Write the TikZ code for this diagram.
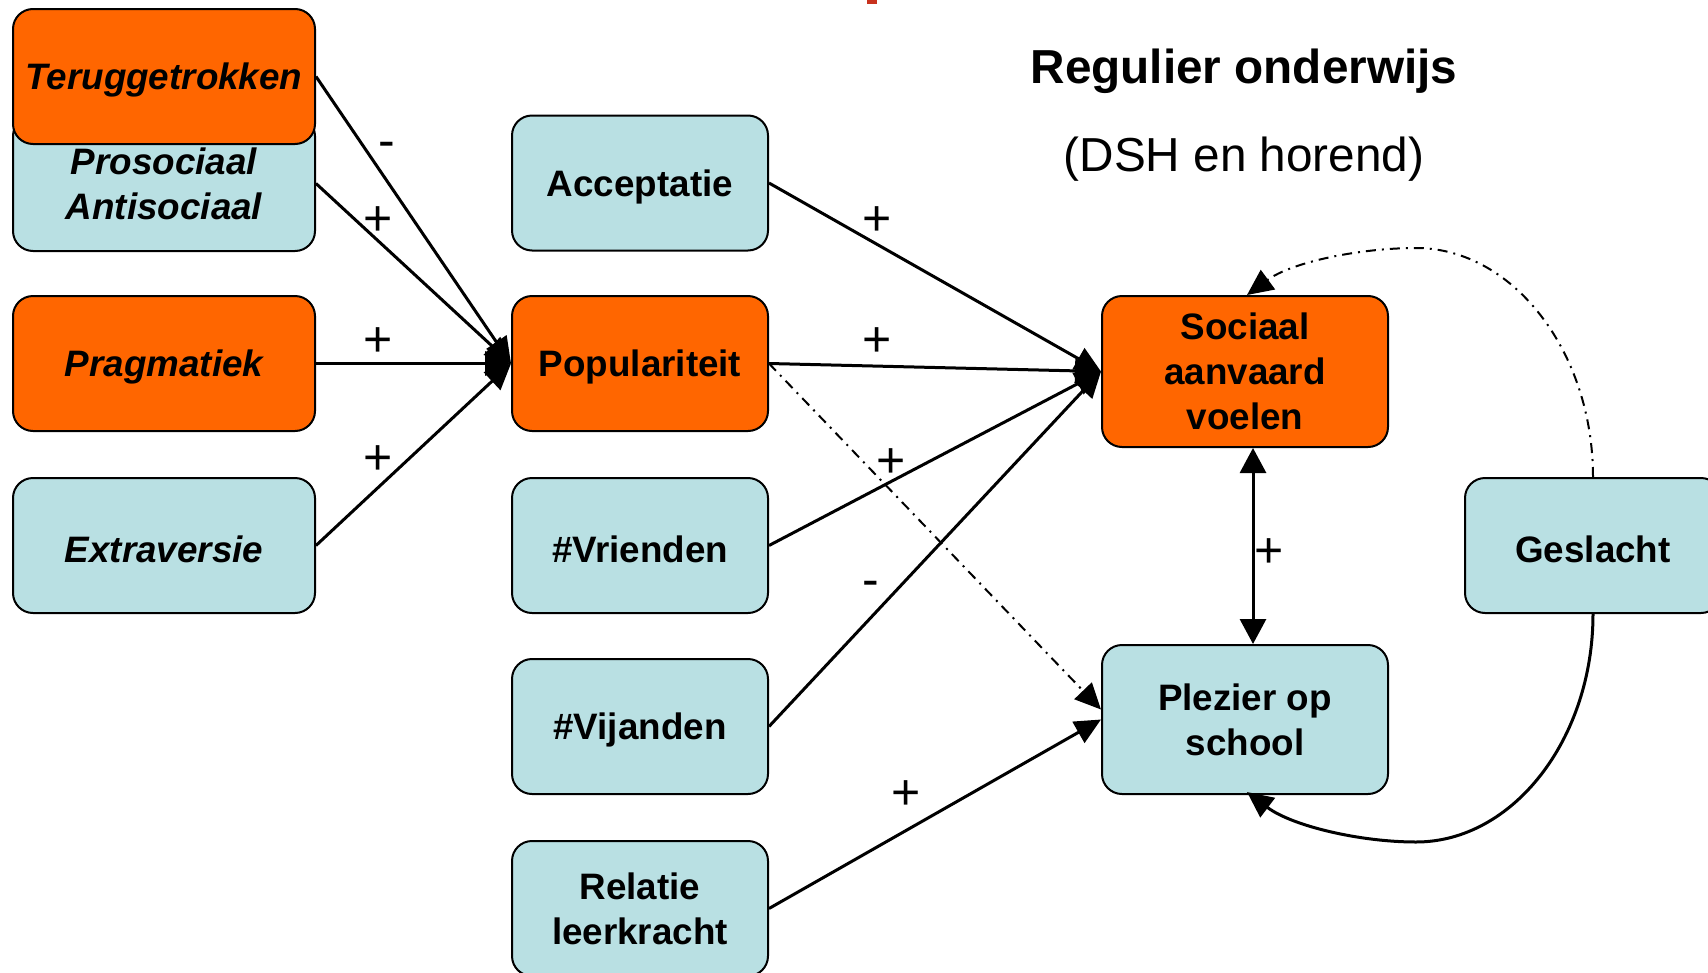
\documentclass[tikz,border=0pt]{standalone}
\usepackage{fontspec}
\setmainfont{Liberation Sans}
\usetikzlibrary{arrows.meta}
\definecolor{orng}{RGB}{255,102,0}
\definecolor{lblue}{RGB}{185,224,227}
\definecolor{redmark}{RGB}{200,50,30}
\begin{document}
\begin{tikzpicture}[x=1pt,y=-1pt,
  box/.style={draw=black, line width=2pt, rounded corners=20pt, minimum width=256pt,
    minimum height=135pt, align=center, inner sep=0pt,
    font=\fontsize{36.8}{44.7}\selectfont\bfseries},
  wbox/.style={box, minimum width=302pt},
  one/.style={execute at begin node={\rule{0pt}{34pt}}},
  ital/.style={font=\fontsize{36.8}{44.7}\selectfont\bfseries\itshape},
  ob/.style={fill=orng},
  bb/.style={fill=lblue},
  conn/.style={line width=3pt, -{Triangle[length=26pt,width=24pt]}},
  dd/.style={line width=2pt, dash pattern=on 10pt off 6pt on 2pt off 6pt, -{Triangle[length=26pt,width=24pt]}},
  sgn/.style={font=\fontsize{50}{60}\selectfont, inner sep=0pt},
  ttl/.style={font=\fontsize{47.7}{56}\selectfont, inner sep=0pt}]
\useasboundingbox (0,0) rectangle (1708,972);
\clip (0,0) rectangle (1708,972);
\fill[redmark] (867,0) rectangle (877,4);
\node[ttl, font=\fontsize{47.7}{56}\selectfont\bfseries] (title) at (1244,71.5) {Regulier onderwijs};
\node[ttl] (sub) at (1244,159.5) {(DSH en horend)};
% left column
\node[wbox, bb, ital, minimum height=135pt] (prosoc) at (164,183.5) {Prosociaal\\Antisociaal};
\node[wbox, ob, ital, one] (terug) at (164,76.5) {Teruggetrokken};
\node[wbox, ob, ital, one] (prag) at (164,363.5) {Pragmatiek};
\node[wbox, bb, ital, one] (extra) at (164,545.5) {Extraversie};
% middle column
\node[box, bb, one] (accept) at (640,183) {Acceptatie};
\node[box, ob, one] (popul) at (640,363.5) {Populariteit};
\node[box, bb, one] (vrienden) at (640,545.5) {\#Vrienden};
\node[box, bb, one] (vijanden) at (640,726.5) {\#Vijanden};
\node[box, bb] (relatie) at (640,908.5) {Relatie\\leerkracht};
% right column
\node[box, ob, minimum width=286pt, minimum height=151pt] (sociaal) at (1245,371.5) {Sociaal\\aanvaard\\voelen};
\node[box, bb, minimum width=286pt, minimum height=149pt] (plezier) at (1245,719.5) {Plezier op\\school};
\node[box, bb, one] (geslacht) at (1593,545.5) {Geslacht};
% connectors into Populariteit
\draw[conn] (terug.east) -- (popul.west);
\draw[conn] (prosoc.east) -- (popul.west);
\draw[conn] (prag.east) -- (popul.west);
\draw[conn] (extra.east) -- (popul.west);
% connectors into Sociaal
\draw[conn] (accept.east) -- (sociaal.west);
\draw[conn] (popul.east) -- (sociaal.west);
\draw[conn] (vrienden.east) -- (sociaal.west);
\draw[conn] (vijanden.east) -- (sociaal.west);
% into Plezier
\draw[conn] (relatie.east) -- (plezier.west);
\draw[dd] (popul.east) -- ([yshift=10pt]plezier.west);
\draw[line width=3pt, {Triangle[length=25pt,width=26pt]}-{Triangle[length=25pt,width=26pt]}]
  ([xshift=8pt]sociaal.south) -- ([xshift=8pt]plezier.north);
% Geslacht curves
\coordinate (ctop) at (1416,248);
\coordinate (cbot) at (1416,842);
\draw[dd] (geslacht.north) .. controls (1593,352) and (1513,248) .. (ctop)
  .. controls (1360,248) and (1292,262) .. ([xshift=2pt]sociaal.north);
\draw[conn] (geslacht.south) .. controls (1593,739) and (1513,842) .. (cbot)
  .. controls (1360,842) and (1292,826) .. ([xshift=2pt,yshift=3pt]plezier.south);
% signs
\node[sgn] (s1) at (387,150) {-};
\node[sgn] (s2) at (378,221) {+};
\node[sgn] (s3) at (378,342) {+};
\node[sgn] (s4) at (378,460) {+};
\node[sgn] (s5) at (877,221) {+};
\node[sgn] (s6) at (877,342) {+};
\node[sgn] (s7) at (891,463) {+};
\node[sgn] (s8) at (871,589) {-};
\node[sgn] (s9) at (906,795) {+};
\node[sgn] (s10) at (1269,553) {+};
\end{tikzpicture}
\end{document}
